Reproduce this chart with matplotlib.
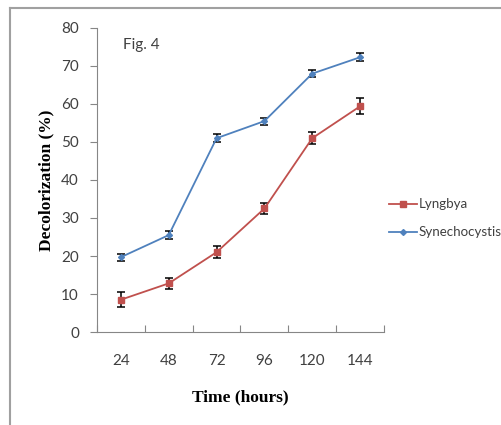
import matplotlib.pyplot as plt
from matplotlib.lines import Line2D

time_labels = ["24", "48", "72", "96", "120", "144"]
lyngbya = [8.5, 12.8, 21.0, 32.5, 51.0, 59.4]
lyngbya_err = [2.0, 1.4, 1.6, 1.4, 1.6, 2.1]
synecho = [19.7, 25.5, 51.0, 55.5, 68.0, 72.3]
synecho_err = [0.9, 1.0, 1.0, 0.9, 1.0, 1.0]

red = "#C0504D"
blue = "#4F81BD"
grey = "#868686"
txt = "#404040"
sans = "Lato"

fig = plt.figure(figsize=(5.01, 4.25), dpi=100)

# outer frame (left and top edges visible)
fig.add_artist(Line2D([10/501, 10/501], [0, 1 - 8/425], transform=fig.transFigure, color="#a0a0a0", lw=1.5))
fig.add_artist(Line2D([10/501, 1], [1 - 8/425, 1 - 8/425], transform=fig.transFigure, color="#a0a0a0", lw=1.5))

ax = fig.add_axes([97/501, 1 - 332/425, 287/501, 304/425])
x = list(range(len(time_labels)))

ax.errorbar(x, lyngbya, yerr=lyngbya_err, color=red, marker="s", markersize=5,
            lw=1.3, ecolor="black", elinewidth=1.1, capsize=3, capthick=1.1, label="Lyngbya")
ax.errorbar(x, synecho, yerr=synecho_err, color=blue, marker="D", markersize=3,
            lw=1.3, ecolor="black", elinewidth=1.1, capsize=3, capthick=1.1, label="Synechocystis")

ax.set_xlim(-0.5, 5.5)
ax.set_ylim(0, 80)
ax.set_yticks(range(0, 81, 10))
ax.set_xticks([i - 0.5 for i in range(7)], minor=False)
ax.set_xticklabels([])
ax.set_xticks(x, minor=True)
ax.set_xticklabels(time_labels, minor=True)
ax.tick_params(axis="x", which="minor", length=0, pad=16, labelsize=11, labelcolor=txt)
ax.tick_params(axis="x", which="major", direction="in", length=5, color=grey)
ax.tick_params(axis="y", direction="out", length=5, color=grey, labelsize=11, labelcolor=txt, pad=8)
for lab in ax.get_xticklabels(minor=True) + ax.get_yticklabels():
    lab.set_fontfamily(sans)

ax.spines["top"].set_visible(False)
ax.spines["right"].set_visible(False)
ax.spines["left"].set_color(grey)
ax.spines["bottom"].set_color(grey)

ax.set_ylabel("Decolorization (%)", fontfamily="Liberation Serif", fontweight="bold", fontsize=12.5, labelpad=5)
ax.set_xlabel("Time (hours)", fontfamily="Liberation Serif", fontweight="bold", fontsize=12.5, labelpad=15)

fig.text(123/501, 1 - 45/425, "Fig. 4", fontfamily=sans, fontsize=11, color=txt, va="center")

# legend drawn manually to match position
for yy, col, mk, ms, name in [(204, red, "s", 5, "Lyngbya"), (232, blue, "D", 3, "Synechocystis")]:
    fy = 1 - yy/425
    fig.add_artist(Line2D([389/501, 417/501], [fy, fy], transform=fig.transFigure, color=col, lw=1.3))
    fig.add_artist(Line2D([403/501], [fy], transform=fig.transFigure, color=col, marker=mk, markersize=ms))
    fig.text(419/501, fy, name, fontfamily=sans, fontsize=9.6, color=txt, va="center")

fig.savefig("out.png", dpi=100)
